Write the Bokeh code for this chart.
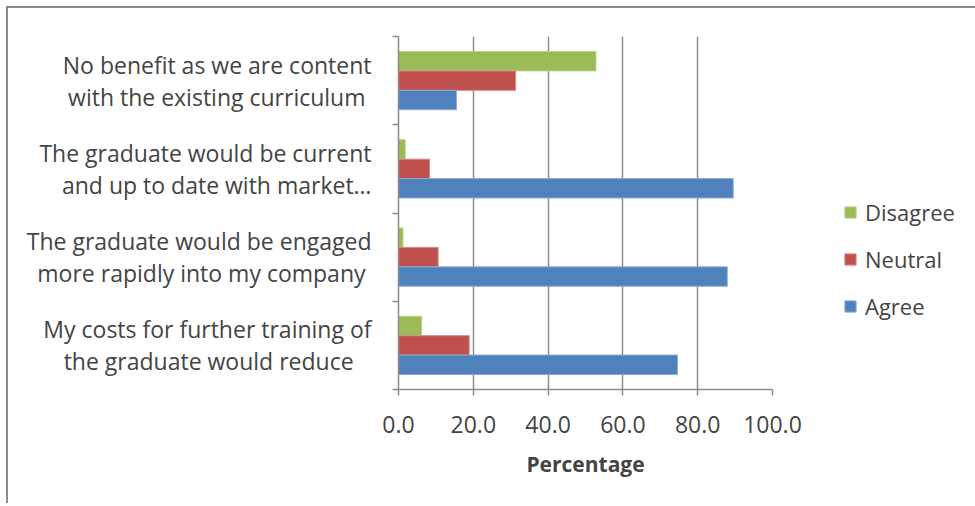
from bokeh.plotting import figure
from bokeh.models import (ColumnDataSource, FixedTicker, Legend, LegendItem,
                          NumeralTickFormatter, Range1d)
from bokeh.transform import dodge
from bokeh.embed import file_html
from bokeh.resources import INLINE

NB = "\u00a0"
# Data (bottom to top as drawn)
categories = [
    "My costs for further training of\nthe graduate would reduce" + NB * 3,
    "The graduate would be engaged\nmore rapidly into my company" + NB,
    "The graduate would be current\nand up to date with market…",
    "No benefit as we are content\nwith the existing curriculum" + NB,
]
agree = [74.6, 87.9, 89.5, 15.5]
neutral = [18.9, 10.6, 8.3, 31.3]
disagree = [6.2, 1.2, 1.8, 52.8]
series_names = ["Disagree", "Neutral", "Agree"]
x_ticks = [0, 20, 40, 60, 80, 100]

FONT = "Open Sans"
FS = "23px"
GRID = "#8c8c8c"
colors = {"Agree": "#4F81BD", "Neutral": "#C0504D", "Disagree": "#9BBB59"}
edges = {"Agree": "#8eabd4", "Neutral": "#d58986", "Disagree": "#b9d08c"}

centers = [i + 0.5 for i in range(len(categories))]
bounds = [i for i in range(len(categories) + 1)]
src = ColumnDataSource(dict(y=centers, agree=agree, neutral=neutral, disagree=disagree))

p = figure(frame_width=374, frame_height=353,
           min_border_left=390, min_border_top=28, min_border_right=203,
           min_border_bottom=114,
           x_range=Range1d(0, 100), y_range=Range1d(0, len(categories)),
           output_backend="svg", toolbar_location=None,
           styles={"margin-left": "6px", "margin-top": "6px",
                   "border-top": "2px solid #8c8c8c", "border-left": "2px solid #8c8c8c"})
p.outline_line_color = None
p.background_fill_color = "white"
p.border_fill_color = "white"

bh = 0.22
r_dis = p.hbar(y=dodge("y", bh, range=p.y_range), right="disagree", left=0, height=bh,
               source=src, fill_color=colors["Disagree"], line_color=edges["Disagree"], line_width=1)
r_neu = p.hbar(y="y", right="neutral", left=0, height=bh,
               source=src, fill_color=colors["Neutral"], line_color=edges["Neutral"], line_width=1)
r_agr = p.hbar(y=dodge("y", -bh, range=p.y_range), right="agree", left=0, height=bh,
               source=src, fill_color=colors["Agree"], line_color=edges["Agree"], line_width=1)

# grid
p.ygrid.visible = False
p.xgrid.ticker = FixedTicker(ticks=x_ticks[1:])
p.xgrid.grid_line_color = GRID
p.xgrid.grid_line_width = 1.5
p.xgrid.level = "underlay"

# x axis
xa = p.xaxis[0]
xa.ticker = FixedTicker(ticks=x_ticks)
xa.formatter = NumeralTickFormatter(format="0.0")
xa.axis_label = "Percentage"
xa.axis_label_text_font = FONT
xa.axis_label_text_font_size = "21px"
xa.axis_label_text_font_style = "bold"
xa.axis_label_standoff = 14
xa.major_label_text_font = FONT
xa.major_label_text_font_size = FS
xa.major_label_standoff = 20
xa.major_tick_in = 0
xa.major_tick_out = 6
xa.minor_tick_line_color = None
xa.axis_line_color = GRID
xa.axis_line_width = 1.5
xa.major_tick_line_color = GRID
xa.major_tick_line_width = 1.5

# y axis
ya = p.yaxis[0]
ya.ticker = FixedTicker(ticks=centers, minor_ticks=bounds)
ya.major_label_overrides = {c: lab for c, lab in zip(centers, categories)}
ya.major_label_text_font = FONT
ya.major_label_text_font_size = FS
ya.major_label_text_line_height = 1.0
ya.major_label_standoff = 21
ya.major_tick_line_color = None
ya.major_tick_in = 0
ya.major_tick_out = 0
ya.minor_tick_in = 0
ya.minor_tick_out = 6
ya.minor_tick_line_color = GRID
ya.minor_tick_line_width = 1.5
ya.axis_line_color = GRID
ya.axis_line_width = 1.5

legend = Legend(items=[LegendItem(label=series_names[0], renderers=[r_dis]),
                       LegendItem(label=series_names[1], renderers=[r_neu]),
                       LegendItem(label=series_names[2], renderers=[r_agr])],
                location=(71, 68), orientation="vertical")
legend.glyph_width = 14
legend.glyph_height = 14
legend.label_standoff = 8
legend.label_height = 22
legend.spacing = 17
legend.padding = 0
legend.margin = 0
legend.border_line_color = None
legend.background_fill_alpha = 0
legend.label_text_font = FONT
legend.label_text_font_size = "22px"
p.add_layout(legend, "right")

open("out.html", "w").write(file_html(p, INLINE))
